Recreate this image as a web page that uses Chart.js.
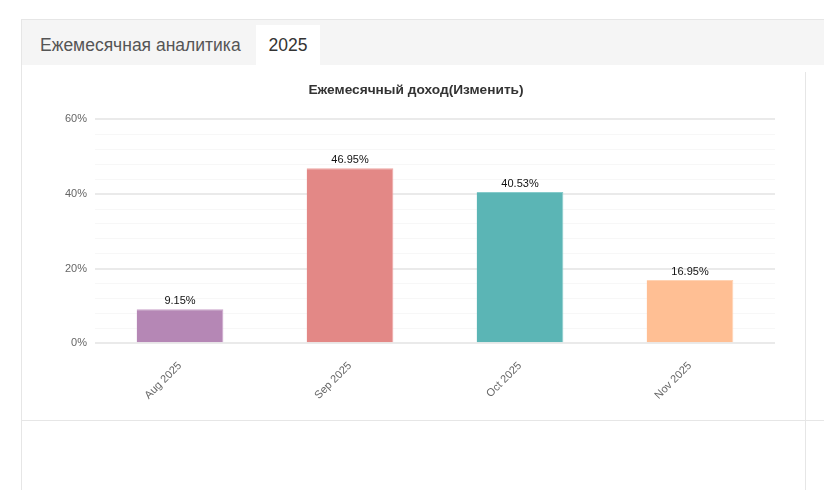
<!DOCTYPE html>
<html lang="ru">
<head>
  <meta charset="UTF-8">
  <title>Ежемесячная аналитика</title>
  <script src="https://cdn.jsdelivr.net/npm/chart.js"></script>
  <style>
    body { margin: 0; background: #fff; font-family: Arial, "Liberation Sans", sans-serif; width: 824px; height: 490px; overflow: hidden; position: relative; }
    .panel { position: absolute; left: 21px; top: 19px; width: 830px; height: 500px; border: 1px solid #e6e6e6; box-sizing: border-box; }
    .tabs { height: 45px; background: #f5f5f5; position: relative; }
    .tab { position: absolute; top: 5px; height: 40px; line-height: 40px; font-size: 17.5px; color: #555; }
    .tab1 { left: 18px; }
    .tab2 { left: 234px; width: 64px; text-align: center; background: #fff; color: #333; }
    .vline { position: absolute; left: 783px; top: 52px; width: 1px; height: 460px; background: #e6e6e6; }
    .hline { position: absolute; left: 0; top: 400px; width: 830px; height: 1px; background: #e6e6e6; }
    #wrap { position: absolute; left: 1px; top: 50px; width: 782px; height: 340px; }
  </style>
</head>
<body>
  <div class="panel">
    <div class="tabs">
      <div class="tab tab1">Ежемесячная аналитика</div>
      <div class="tab tab2">2025</div>
    </div>
    <div class="vline"></div>
    <div class="hline"></div>
    <div id="wrap"><canvas id="grafico"></canvas></div>
  </div>

  <script>
    const meses = ['Aug 2025', 'Sep 2025', 'Oct 2025', 'Nov 2025'];
    const valores = [9.15, 46.95, 40.53, 16.95];
    const colores = ['#b587b5', '#e38886', '#5bb5b5', '#ffbf94'];
    const bordes = ['#cba3cb', '#eea6a4', '#85cbcb', '#ffd3b4'];

    // etiquetas encima de cada barra
    const etiquetas = {
      id: 'etiquetas',
      afterDatasetsDraw(chart) {
        const ctx = chart.ctx;
        const meta = chart.getDatasetMeta(0);
        ctx.save();
        ctx.font = '11px Arial, "Liberation Sans", sans-serif';
        ctx.fillStyle = '#111';
        ctx.textAlign = 'center';
        ctx.textBaseline = 'bottom';
        meta.data.forEach((bar, i) => {
          ctx.fillText(valores[i].toFixed(2) + '%', bar.x, bar.y - 3);
        });
        ctx.restore();
      }
    };

    new Chart(document.getElementById('grafico'), {
      type: 'bar',
      data: {
        labels: meses,
        datasets: [{
          data: valores,
          backgroundColor: colores,
          borderColor: bordes,
          borderWidth: { right: 1, top: 1, left: 0, bottom: 0 },
          barPercentage: 0.51,
          categoryPercentage: 1
        }]
      },
      options: {
        responsive: true,
        maintainAspectRatio: false,
        animation: false,
        layout: { padding: { left: 34, right: 30, top: 0, bottom: 0 } },
        plugins: {
          legend: { display: false },
          tooltip: { enabled: false },
          title: {
            display: true,
            text: 'Ежемесячный доход(Изменить)',
            color: '#333',
            font: { size: 13.7, weight: 'bold', family: 'Arial, "Liberation Sans", sans-serif' },
            padding: { top: 12, bottom: 21 }
          }
        },
        scales: {
          x: {
            grid: { display: false },
            border: { display: false },
            ticks: {
              color: '#666',
              font: { size: 11, family: 'Arial, "Liberation Sans", sans-serif' },
              maxRotation: 45, minRotation: 45,
              padding: 8
            }
          },
          y: {
            min: 0, max: 60,
            border: { display: false },
            grid: {
              drawTicks: false,
              color: c => (c.tick && c.tick.value % 20 === 0) ? '#eaeaea' : '#f7f7f7',
              lineWidth: c => (c.tick && c.tick.value % 20 === 0) ? 2 : 1
            },
            ticks: {
              stepSize: 4,
              autoSkip: false,
              padding: 8,
              color: '#666',
              font: { size: 11, family: 'Arial, "Liberation Sans", sans-serif' },
              callback: v => v % 20 === 0 ? v + '%' : ''
            }
          }
        }
      },
      plugins: [etiquetas]
    });
  </script>
</body>
</html>
